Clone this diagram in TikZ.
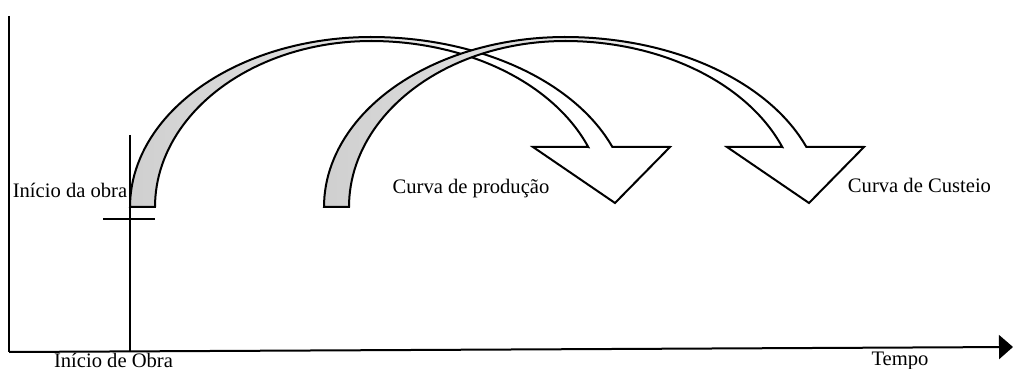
\documentclass[tikz,border=0pt]{standalone}
\usepackage{fontspec}
\setmainfont{Liberation Serif}
\usetikzlibrary{arrows.meta}
\newcommand\bandpath{%
  plot[domain=180:90,samples=50] ({371+241*cos(\x)},{207-170*sin(\x)})
  -- plot[domain=90:20.7,samples=50] ({371+258*cos(\x)},{207-170*sin(\x)})
  -- (670,147) -- (615,203) -- (533,147) -- (588,147)
  -- plot[domain=21.17:90,samples=50] ({371+233*cos(\x)},{207-166*sin(\x)})
  -- plot[domain=90:180,samples=50] ({371+216*cos(\x)},{207-166*sin(\x)})
  -- cycle}
\tikzset{
  axisline/.style={line width=1pt},
  band/.style={draw=black, line width=1pt, line join=miter, fill=white,
    path picture={\shade[left color=gray!38, middle color=gray!22, right color=white] (120,0) rectangle (440,230);}},
  lbl/.style={anchor=base, inner sep=0pt, font=\fontsize{10.3}{12}\selectfont}
}
\begin{document}
\begin{tikzpicture}[x=0.5pt,y=-0.5pt]
\useasboundingbox (0,0) rectangle (1013,369);
% axes
\coordinate (ytop) at (9,16);
\coordinate (orig) at (9,352);
\coordinate (xend) at (1013,347);
\draw[axisline] (ytop) -- (orig);
\draw[axisline, -{Triangle[length=7pt,width=12pt]}] (orig) -- (xend);
% start marker
\coordinate (vtop) at (130,135);
\coordinate (vbot) at (130,352);
\draw[line width=0.9pt] (vtop) -- (vbot);
\coordinate (tl) at (103,219);
\coordinate (tr) at (155,219);
\draw[line width=0.9pt] (tl) -- (tr);
% curved arrows
\path[band] \bandpath;
\begin{scope}[shift={(194,0)}]
\path[band] \bandpath;
\end{scope}
% labels
\node[lbl] (obra) at (70,198) {Início da obra};
\node[lbl] (prod) at (471,194) {Curva de produção};
\node[lbl] (cust) at (919.5,192) {Curva de Custeio};
\node[lbl] (tempo) at (900,365) {Tempo};
\node[lbl] (inicio) at (113.5,367) {Início de Obra};
\end{tikzpicture}
\end{document}
